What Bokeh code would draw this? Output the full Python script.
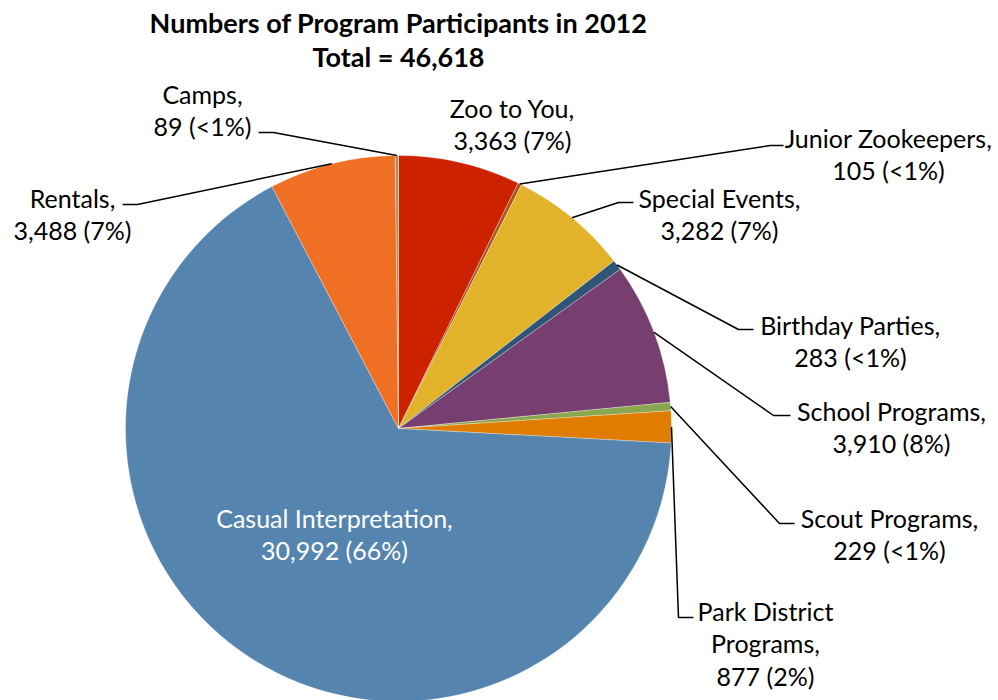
import numpy as np
from bokeh.plotting import figure
from bokeh.models import Range1d, ColumnDataSource
from bokeh.core.properties import value
from bokeh.embed import file_html
from bokeh.resources import INLINE

# ---------------- data ----------------
title_text = "Numbers of Program Participants in 2012"
categories = ["Zoo to You", "Junior Zookeepers", "Special Events", "Birthday Parties",
              "School Programs", "Scout Programs", "Park District Programs",
              "Casual Interpretation", "Rentals", "Camps"]
participants = [3363, 105, 3282, 283, 3910, 229, 877, 30992, 3488, 89]

# ---------------- styles ----------------
colors = ["#CC2200", "#A9561E", "#E2B22B", "#2F5677", "#763F70",
          "#8AA64E", "#E07C00", "#5585AE", "#EF7025", "#A69664"]
FONT = "Lato"
LABEL_SIZE = "25px"
LINE_GAP = 32.5

W, H = 998, 700
def sx(X):  # screenshot x -> data x
    return X
def sy(Y):  # screenshot y -> data y
    return H - Y

CX, CY, R = sx(398), sy(428), 273

# label layout: centre x, first line centre y, leader elbow, leader end (screen px)
layout = {
    "Zoo to You":            dict(c=(512, 107), elbow=None, end=None),
    "Junior Zookeepers":     dict(c=(888, 137), elbow=(770, 145), end=(783, 145)),
    "Special Events":        dict(c=(719, 197), elbow=(618, 202), end=(633, 202)),
    "Birthday Parties":      dict(c=(850, 324), elbow=(738, 329), end=(753, 329)),
    "School Programs":       dict(c=(891, 410), elbow=(773, 415), end=(790, 415)),
    "Scout Programs":        dict(c=(889, 517), elbow=(779, 523), end=(794, 523)),
    "Park District Programs": dict(c=(765, 610), elbow=(678, 617), end=(693, 617)),
    "Casual Interpretation": dict(c=(334, 517), elbow=None, end=None),
    "Rentals":               dict(c=(72, 197), elbow=(137, 204), end=(122, 204)),
    "Camps":                 dict(c=(202, 93), elbow=(273, 132), end=(258, 132)),
}
wrap = {"Park District Programs": ["Park District", "Programs,"]}
text_colors = {"Casual Interpretation": "white"}

# ---------------- computations ----------------
vals = np.array(participants, dtype=float)
total = vals.sum()
frac = vals / total
cum_end = np.cumsum(frac)
cum_start = cum_end - frac
start_angle = np.pi / 2 - 2 * np.pi * cum_end
end_angle = np.pi / 2 - 2 * np.pi * cum_start
mid_angle = np.pi / 2 - 2 * np.pi * (cum_start + cum_end) / 2

p = figure(width=W, height=H, x_range=Range1d(0, W), y_range=Range1d(0, H),
           output_backend="svg", toolbar_location=None, min_border=0,
           title=None, outline_line_color=None, background_fill_color="white")
p.axis.visible = False
p.grid.visible = False

src = ColumnDataSource(dict(x=[CX] * len(vals), y=[CY] * len(vals),
                            start=start_angle, end=end_angle, color=colors))
p.wedge(x="x", y="y", radius=R, start_angle="start", end_angle="end",
        fill_color="color", line_color="white", line_width=0.6, line_alpha=0.5,
        source=src)

# leader lines
lx, ly = [], []
for i, name in enumerate(categories):
    lay = layout[name]
    if lay["elbow"] is None:
        continue
    ex = CX + R * np.cos(mid_angle[i])
    ey = CY + R * np.sin(mid_angle[i])
    lx.append([ex, sx(lay["elbow"][0]), sx(lay["end"][0])])
    ly.append([ey, sy(lay["elbow"][1]), sy(lay["end"][1])])
p.multi_line(lx, ly, line_color="black", line_width=1.5)

# labels
tx, ty, tt, tc = [], [], [], []
for i, name in enumerate(categories):
    pct = frac[i] * 100
    pct_s = "<1%" if pct < 1 else f"{round(pct)}%"
    lines = wrap.get(name, [name + ","]) + [f"{participants[i]:,} ({pct_s})"]
    cx_, cy_ = layout[name]["c"]
    for k, ln in enumerate(lines):
        tx.append(sx(cx_))
        ty.append(sy(cy_ + k * LINE_GAP))
        tt.append(ln)
        tc.append(text_colors.get(name, "black"))
p.text(x=tx, y=ty, text=tt, text_color=tc, text_font=value(FONT),
       text_font_size=LABEL_SIZE, text_align="center", text_baseline="middle")

# title
p.text(x=[sx(398), sx(398)], y=[sy(22), sy(56)],
       text=[title_text, f"Total = {int(total):,}"], text_color="black",
       text_font=value(FONT), text_font_size="27px", text_font_style="bold",
       text_align="center", text_baseline="middle")

open("out.html", "w").write(file_html(p, INLINE))
